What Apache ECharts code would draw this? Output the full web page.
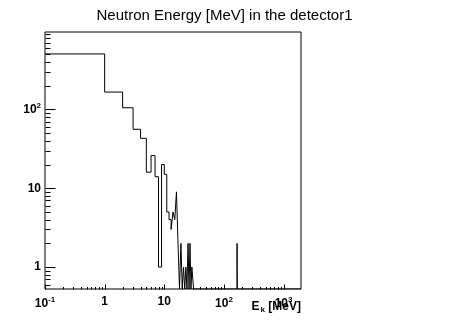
<!DOCTYPE html>
<html>
<head>
<meta charset="utf-8">
<script src="https://cdn.jsdelivr.net/npm/echarts@6/dist/echarts.min.js"></script>
<style>
  html, body { margin: 0; padding: 0; background: #fff; }
  #chart { width: 449px; height: 322px; }
</style>
</head>
<body>
<div id="chart"></div>
<script>
// 数据：每个bin宽1 MeV，从0开始
var binWidth = 1;
var nBins = 2000;
// bin 0-1, 1-2, ... 30-31 的计数
var lowCounts = [506, 166, 105, 56, 43, 16, 26, 14, 1, 20,
                 15, 5, 4, 3, 5, 4, 9, 2, 0, 2,
                 0, 1, 0, 1, 0, 2, 0, 2, 0, 1, 1];
// 高能区的孤立bin：[下沿, 计数]
var farBins = [[166, 2]];

// 坐标轴范围
var xMin = 0.1, xMax = 1960;
var yMin = 0.527, yMax = 960;
// 刻度：十进位 + 次刻度倍数
var xDecades = [0.1, 1, 10, 100, 1000];
var yDecades = [0.1, 1, 10, 100];
var minorSteps = [2, 3, 4, 5, 6, 7, 8, 9];

var fontName = 'Liberation Sans, Helvetica, Arial, sans-serif';

(function () {
  // 组装所有bin内容
  var contents = [];
  for (var i = 0; i < nBins; i++) contents.push(i < lowCounts.length ? lowCounts[i] : 0);
  farBins.forEach(function (b) { contents[b[0] / binWidth] = b[1]; });

  // 直方图轮廓：相同值的相邻bin合并，0值压到底边
  var pts = [];
  var i = 0;
  while (i < nBins && i * binWidth < xMax) {
    var c = contents[i];
    var j = i;
    while (j + 1 < nBins && contents[j + 1] === c) j++;
    var lo = Math.max(i * binWidth, xMin);
    var hi = Math.min((j + 1) * binWidth, xMax);
    var v = c > 0 ? c : yMin;
    pts.push([lo, v], [hi, v]);
    i = j + 1;
  }

  // 刻度线数据 [x, y, 长度, 方向]
  var ticks = [];
  xDecades.forEach(function (d) {
    if (d >= xMin && d <= xMax) ticks.push([d, yMin, 5, 0]);
    minorSteps.forEach(function (m) {
      var t = d * m;
      if (t > xMin && t < xMax) ticks.push([t, yMin, 2.5, 0]);
    });
  });
  yDecades.forEach(function (d) {
    if (d >= yMin && d <= yMax) ticks.push([xMin, d, 10, 1]);
    minorSteps.forEach(function (m) {
      var t = d * m;
      if (t > yMin && t < yMax) ticks.push([xMin, t, 5, 1]);
    });
  });

  function powLabel(v) {
    var e = Math.log10(v);
    var r = Math.round(e);
    if (Math.abs(e - r) > 1e-6) return '';
    if (r === 0) return '1';
    if (r === 1) return '10';
    return '10{s|' + r + '}';
  }

  var labelRich = {
    s: { fontSize: 8, fontWeight: 'bold', fontFamily: fontName, color: '#000', verticalAlign: 'bottom', padding: [0, 0, 7, 0] }
  };

  var option = {
    animation: false,
    backgroundColor: '#fff',
    title: [
      {
        text: 'Neutron Energy [MeV] in the detector1',
        left: 'center',
        top: 3,
        textStyle: { fontFamily: fontName, fontSize: 15, fontWeight: 'normal', color: '#000' }
      },
      {
        // x轴标题，右对齐到框的右边
        text: 'E{sub|k} [MeV]',
        right: 148,
        top: 299,
        padding: 0,
        textStyle: {
          fontFamily: fontName, fontSize: 12, fontWeight: 'bold', color: '#000',
          rich: {
            sub: { fontSize: 8, fontWeight: 'bold', fontFamily: fontName, color: '#000', verticalAlign: 'top', padding: [7, 0, 0, 1] }
          }
        }
      }
    ],
    grid: {
      left: 45, top: 32, right: 148, bottom: 33,
      show: true, borderColor: '#000', borderWidth: 1, backgroundColor: '#fff'
    },
    xAxis: {
      type: 'log', min: xMin, max: xMax,
      axisLine: { show: false },
      axisTick: { show: false },
      splitLine: { show: false },
      axisLabel: {
        formatter: powLabel, margin: 7,
        fontFamily: fontName, fontSize: 12, fontWeight: 'bold', color: '#000',
        showMinLabel: true, showMaxLabel: true, rich: labelRich
      }
    },
    yAxis: {
      type: 'log', min: yMin, max: yMax,
      axisLine: { show: false },
      axisTick: { show: false },
      splitLine: { show: false },
      axisLabel: {
        formatter: powLabel, margin: 4,
        fontFamily: fontName, fontSize: 12, fontWeight: 'bold', color: '#000',
        rich: labelRich
      }
    },
    series: [
      {
        type: 'line',
        data: pts,
        showSymbol: false,
        lineStyle: { color: '#000', width: 1 },
        clip: true,
        silent: true
      },
      {
        type: 'custom',
        data: ticks,
        silent: true,
        clip: false,
        renderItem: function (params, api) {
          var p = api.coord([api.value(0), api.value(1)]);
          var len = api.value(2);
          var x = Math.round(p[0]) + 0.5, y = Math.round(p[1]) + 0.5;
          var shape = api.value(3) === 0
            ? { x1: x, y1: y, x2: x, y2: y - len }
            : { x1: x, y1: y, x2: x + len, y2: y };
          return { type: 'line', shape: shape, style: { stroke: '#000', lineWidth: 1 } };
        }
      }
    ]
  };

  var myChart = echarts.init(document.getElementById('chart'));
  myChart.setOption(option);
})();
</script>
</body>
</html>
